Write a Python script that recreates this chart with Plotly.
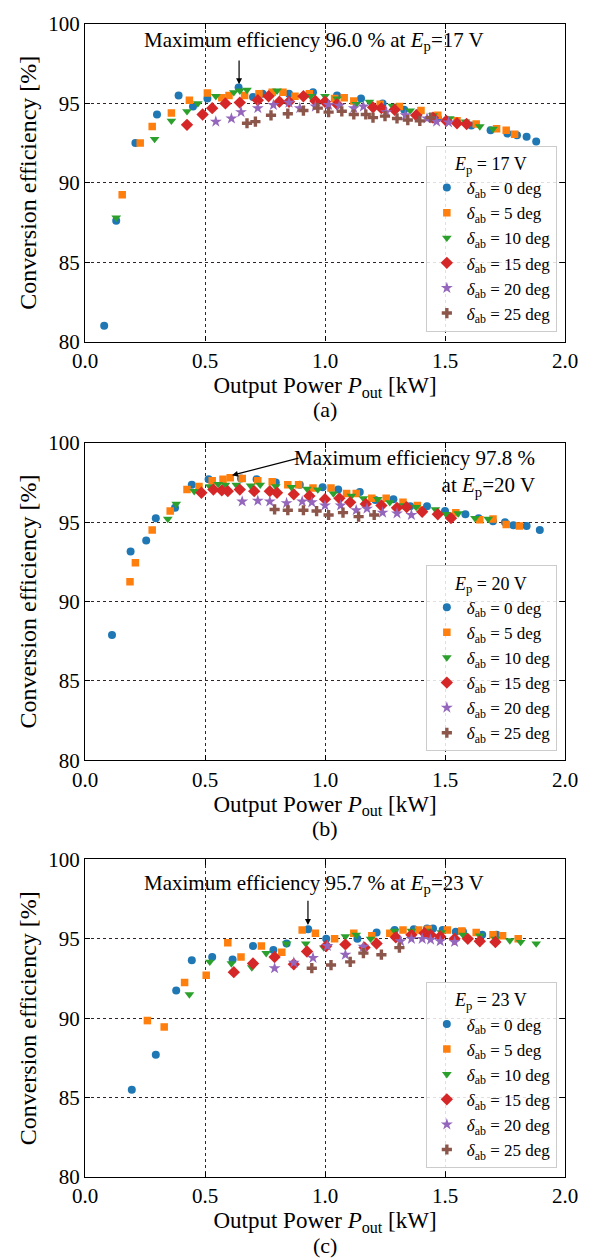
import plotly.graph_objects as go

FONT = "'Liberation Serif', 'Times New Roman', serif"
COLORS = ["#1f77b4", "#ff7f0e", "#2ca02c", "#d62728", "#9467bd", "#8c564b"]
SYMBOLS = ["circle", "square", "triangle-down", "diamond", "star", "cross"]
SIZES = [8, 7.5, 8.5, 9.5, 9, 8.5]
DELTAS = [0, 5, 10, 15, 20, 25]
EP = [17, 20, 23]
PANEL_LABELS = ["(a)", "(b)", "(c)"]

# ---------------- Panel (a): Ep = 17 V ----------------
a_p0 = [0.08, 0.13, 0.21, 0.30, 0.39, 0.45, 0.51, 0.64, 0.70, 0.74, 0.85, 0.95, 1.05, 1.15, 1.24, 1.33, 1.39, 1.47, 1.55, 1.61, 1.69, 1.76, 1.80, 1.84, 1.88]
a_e0 = [81.0, 87.6, 92.5, 94.3, 95.5, 94.8, 95.3, 96.0, 95.4, 95.6, 95.6, 95.7, 95.5, 95.3, 95.0, 94.6, 94.4, 94.1, 93.8, 93.6, 93.3, 93.1, 93.0, 92.9, 92.6]
a_p5 = [0.155, 0.23, 0.28, 0.36, 0.435, 0.51, 0.57, 0.60, 0.665, 0.725, 0.78, 0.825, 0.875, 0.935, 1.04, 1.08, 1.12, 1.23, 1.31, 1.40, 1.47, 1.55, 1.63, 1.715, 1.755, 1.79]
a_e5 = [89.25, 92.5, 93.55, 94.4, 95.2, 95.65, 95.35, 95.5, 95.5, 95.6, 95.7, 95.7, 95.45, 95.6, 95.3, 95.35, 95.15, 94.95, 94.8, 94.55, 94.25, 93.9, 93.7, 93.4, 93.3, 93.05]
a_p10 = [0.13, 0.29, 0.36, 0.425, 0.47, 0.545, 0.62, 0.645, 0.675, 0.80, 0.94, 1.0, 1.05, 1.13, 1.185, 1.28, 1.355, 1.45, 1.52, 1.585, 1.645, 1.70]
a_e10 = [87.8, 92.75, 93.9, 94.5, 95.0, 95.45, 95.7, 95.8, 95.85, 95.8, 95.45, 95.45, 95.3, 94.95, 95.1, 94.85, 94.55, 94.25, 94.05, 93.85, 93.55, 93.4]
a_p15 = [0.425, 0.49, 0.53, 0.585, 0.645, 0.72, 0.765, 0.81, 0.85, 0.91, 0.96, 1.0, 1.05, 1.2, 1.235, 1.29, 1.38, 1.45, 1.505, 1.55, 1.59]
a_e15 = [93.65, 94.3, 94.7, 95.0, 95.05, 95.2, 95.45, 95.1, 95.1, 95.45, 95.15, 95.1, 94.95, 94.75, 94.7, 94.6, 94.25, 94.1, 93.9, 93.75, 93.7]
a_p20 = [0.545, 0.61, 0.65, 0.72, 0.785, 0.85, 0.895, 0.96, 1.015, 1.06, 1.12, 1.16, 1.255, 1.335, 1.425, 1.465, 1.515]
a_e20 = [93.85, 94.05, 94.45, 94.7, 94.9, 95.05, 94.7, 94.8, 94.9, 94.85, 94.7, 94.8, 94.45, 94.25, 94.05, 93.85, 93.8]
a_p25 = [0.675, 0.71, 0.775, 0.845, 0.91, 0.97, 1.015, 1.07, 1.12, 1.17, 1.20, 1.25, 1.30, 1.345, 1.395, 1.44]
a_e25 = [93.75, 93.85, 94.25, 94.35, 94.55, 94.7, 94.45, 94.5, 94.3, 94.3, 94.1, 94.2, 94.05, 93.95, 93.9, 94.1]

# ---------------- Panel (b): Ep = 20 V ----------------
b_p0 = [0.1125, 0.19, 0.255, 0.295, 0.375, 0.445, 0.515, 0.65, 0.715, 0.795, 0.895, 0.99, 1.055, 1.145, 1.21, 1.285, 1.355, 1.425, 1.50, 1.585, 1.64, 1.70, 1.75, 1.785, 1.84, 1.895]
b_e0 = [87.9, 93.15, 93.85, 95.25, 95.9, 97.35, 97.7, 97.75, 97.7, 97.5, 97.35, 97.2, 97.05, 96.9, 96.4, 96.45, 96.0, 96.0, 95.7, 95.5, 95.25, 95.05, 95.0, 94.8, 94.75, 94.5]
b_p5 = [0.1875, 0.21, 0.28, 0.355, 0.425, 0.475, 0.53, 0.575, 0.605, 0.655, 0.72, 0.78, 0.845, 0.89, 0.95, 1.025, 1.09, 1.13, 1.195, 1.255, 1.325, 1.385, 1.545, 1.645, 1.70, 1.755, 1.81]
b_e5 = [91.25, 92.45, 94.5, 95.7, 97.05, 97.25, 97.6, 97.7, 97.8, 97.75, 97.6, 97.55, 97.35, 97.35, 97.15, 97.15, 96.8, 96.8, 96.5, 96.5, 96.25, 96.05, 95.6, 95.15, 95.2, 94.85, 94.75]
b_p10 = [0.345, 0.38, 0.455, 0.52, 0.555, 0.585, 0.63, 0.69, 0.73, 0.795, 0.86, 0.925, 0.97, 1.035, 1.11, 1.16, 1.22, 1.27, 1.325, 1.38, 1.46, 1.505, 1.555, 1.625, 1.68]
b_e10 = [95.2, 96.15, 96.95, 97.25, 97.4, 97.35, 97.35, 97.3, 97.35, 97.25, 97.2, 97.1, 97.05, 96.8, 96.65, 96.5, 96.45, 96.25, 96.05, 95.95, 95.8, 95.5, 95.55, 95.25, 95.2]
b_p15 = [0.485, 0.535, 0.57, 0.595, 0.645, 0.705, 0.77, 0.80, 0.87, 0.935, 1.0, 1.06, 1.105, 1.17, 1.235, 1.30, 1.34, 1.405, 1.47, 1.525]
b_e15 = [96.85, 97.05, 97.0, 96.95, 97.05, 96.95, 96.95, 96.85, 96.75, 96.65, 96.45, 96.5, 96.25, 96.15, 96.05, 95.9, 95.95, 95.65, 95.5, 95.25]
b_p20 = [0.655, 0.72, 0.77, 0.84, 0.905, 0.945, 1.0, 1.065, 1.13, 1.175, 1.24, 1.30, 1.36]
b_e20 = [96.3, 96.35, 96.3, 96.2, 96.3, 96.25, 96.05, 96.05, 95.75, 95.85, 95.6, 95.55, 95.45]
b_p25 = [0.79, 0.845, 0.91, 0.965, 1.015, 1.075, 1.14, 1.205]
b_e25 = [95.8, 95.75, 95.75, 95.7, 95.45, 95.6, 95.35, 95.45]

# ---------------- Panel (c): Ep = 23 V ----------------
c_p0 = [0.195, 0.295, 0.38, 0.445, 0.53, 0.615, 0.70, 0.785, 0.84, 0.93, 1.005, 1.135, 1.215, 1.29, 1.37, 1.425, 1.45, 1.49, 1.545, 1.575, 1.655, 1.715]
c_e0 = [85.5, 87.7, 91.75, 93.65, 93.85, 93.7, 94.55, 94.3, 94.7, 95.6, 95.0, 95.0, 95.4, 95.55, 95.6, 95.65, 95.65, 95.55, 95.45, 95.45, 95.25, 95.25]
c_p5 = [0.26, 0.33, 0.415, 0.505, 0.595, 0.65, 0.735, 0.82, 0.905, 0.96, 1.04, 1.12, 1.195, 1.27, 1.325, 1.39, 1.43, 1.51, 1.57, 1.63, 1.70, 1.74, 1.805]
c_e5 = [89.85, 89.45, 92.25, 92.7, 94.75, 93.85, 94.55, 94.15, 95.55, 95.35, 95.0, 95.35, 95.2, 95.35, 95.55, 95.55, 95.6, 95.55, 95.5, 95.4, 95.25, 95.2, 95.0]
c_p10 = [0.435, 0.52, 0.61, 0.695, 0.755, 0.84, 0.92, 0.995, 1.085, 1.13, 1.19, 1.29, 1.36, 1.43, 1.485, 1.575, 1.645, 1.71, 1.77, 1.815, 1.88]
c_e10 = [91.5, 93.55, 93.45, 93.2, 94.1, 94.7, 94.7, 94.45, 95.15, 95.25, 95.0, 95.5, 95.5, 95.5, 95.4, 95.25, 95.2, 95.0, 94.9, 94.8, 94.7]
c_p15 = [0.62, 0.70, 0.79, 0.87, 0.925, 1.005, 1.085, 1.165, 1.215, 1.295, 1.36, 1.415, 1.44, 1.48, 1.54, 1.595, 1.645, 1.71]
c_e15 = [92.9, 93.45, 93.85, 93.4, 94.2, 94.55, 94.65, 94.45, 94.7, 95.1, 95.25, 95.35, 95.25, 95.15, 95.0, 95.0, 94.85, 94.8]
c_p20 = [0.79, 0.87, 0.95, 1.01, 1.085, 1.16, 1.315, 1.36, 1.405, 1.44, 1.48, 1.54]
c_e20 = [93.15, 93.5, 93.8, 94.55, 94.0, 94.5, 94.85, 95.0, 95.0, 94.95, 94.85, 94.8]
c_p25 = [0.945, 1.025, 1.105, 1.16, 1.235, 1.31]
c_e25 = [93.15, 93.35, 93.55, 94.1, 94.0, 94.45]

PANELS = [
    [(a_p0, a_e0), (a_p5, a_e5), (a_p10, a_e10), (a_p15, a_e15), (a_p20, a_e20), (a_p25, a_e25)],
    [(b_p0, b_e0), (b_p5, b_e5), (b_p10, b_e10), (b_p15, b_e15), (b_p20, b_e20), (b_p25, b_e25)],
    [(c_p0, c_e0), (c_p5, c_e5), (c_p10, c_e10), (c_p15, c_e15), (c_p20, c_e20), (c_p25, c_e25)],
]

ANN_TEXT = [
    "Maximum efficiency 96.0 % at <i>E</i><sub>p</sub>=17 V",
    "Maximum efficiency 97.8 %<br>at <i>E</i><sub>p</sub>=20 V",
    "Maximum efficiency 95.7 % at <i>E</i><sub>p</sub>=23 V",
]
ANN_XY = [(0.956, 98.93, "center"), (1.883, 98.12, "right"), (0.956, 98.44, "center")]
ARROW_TAIL = [(0.642, 97.79), (0.896, 99.06), (0.929, 97.5)]
ARROW_HEAD = [(0.642, 96.21), (0.6125, 97.95), (0.929, 95.875)]

Y_DOMAINS = [[0.7246, 1.0], [0.3614, 0.6368], [0.0, 0.2754]]
LEGEND_Y = [0.7332, 0.3692, 0.00775]

fig = go.Figure()
GRID = "rgba(40,25,25,0.95)"

for i, series in enumerate(PANELS):
    xa = "x" if i == 0 else f"x{i+1}"
    ya = "y" if i == 0 else f"y{i+1}"
    lg = "legend" if i == 0 else f"legend{i+1}"
    for k, (px, ey) in enumerate(series):
        fig.add_trace(go.Scatter(
            x=px, y=ey, mode="markers", xaxis=xa, yaxis=ya, legend=lg,
            name=f"<i>δ</i><sub>ab</sub> = {DELTAS[k]} deg",
            marker=dict(color=COLORS[k], symbol=SYMBOLS[k], size=SIZES[k], line=dict(width=0)),
        ))

    axkey = "xaxis" if i == 0 else f"xaxis{i+1}"
    aykey = "yaxis" if i == 0 else f"yaxis{i+1}"
    fig.layout[axkey] = dict(
        domain=[0, 1], anchor=ya, range=[0, 2], tick0=0, dtick=0.5, tickformat=".1f",
        ticks="inside", ticklen=5, tickwidth=1, tickcolor="black",
        showline=True, linecolor="black", linewidth=1.3, mirror="ticks",
        showgrid=True, gridcolor=GRID, griddash="dot", gridwidth=1, zeroline=False,
        tickfont=dict(family=FONT, size=21, color="black"),
        title=dict(text="Output Power <i>P</i><sub>out</sub> [kW]",
                   font=dict(family=FONT, size=23, color="black"), standoff=2),
    )
    fig.layout[aykey] = dict(
        domain=Y_DOMAINS[i], anchor=xa, range=[80, 100], tick0=80, dtick=5,
        ticks="inside", ticklen=5, tickwidth=1, tickcolor="black",
        showline=True, linecolor="black", linewidth=1.3, mirror="ticks",
        showgrid=True, gridcolor=GRID, griddash="dot", gridwidth=1, zeroline=False,
        tickfont=dict(family=FONT, size=21, color="black"),
        title=dict(text="Conversion efficiency [%]",
                   font=dict(family=FONT, size=24, color="black"), standoff=4),
    )
    fig.layout[lg] = dict(
        x=0.983, y=LEGEND_Y[i], xanchor="right", yanchor="bottom",
        bgcolor="rgba(255,255,255,0.85)", bordercolor="#cccccc", borderwidth=1,
        font=dict(family=FONT, size=17, color="black"),
        title=dict(text=f"<i>E</i><sub>p</sub> = {EP[i]} V", side="top center",
                   font=dict(family=FONT, size=18, color="black")),
        itemsizing="trace", tracegroupgap=0,
    )

    tx, ty, anch = ANN_XY[i]
    fig.add_annotation(x=tx, y=ty, xref=xa, yref=ya, text=ANN_TEXT[i], showarrow=False,
                       xanchor=anch, yanchor="middle", align=anch,
                       font=dict(family=FONT, size=21, color="black"))
    fig.add_annotation(x=ARROW_HEAD[i][0], y=ARROW_HEAD[i][1], ax=ARROW_TAIL[i][0], ay=ARROW_TAIL[i][1],
                       xref=xa, yref=ya, axref=xa, ayref=ya, text="", showarrow=True,
                       arrowhead=2, arrowsize=1, arrowwidth=1.2, arrowcolor="black", standoff=0)
    fig.add_annotation(x=0.5, y=-0.215, xref=f"{xa} domain", yref=f"{ya} domain",
                       text=PANEL_LABELS[i], showarrow=False, xanchor="center", yanchor="middle",
                       font=dict(family=FONT, size=22, color="black"))

fig.update_layout(
    width=593, height=1259,
    margin=dict(l=85, r=28, t=15, b=82),
    paper_bgcolor="white", plot_bgcolor="white",
    font=dict(family=FONT, color="black"),
)

fig.write_html("out.html")
